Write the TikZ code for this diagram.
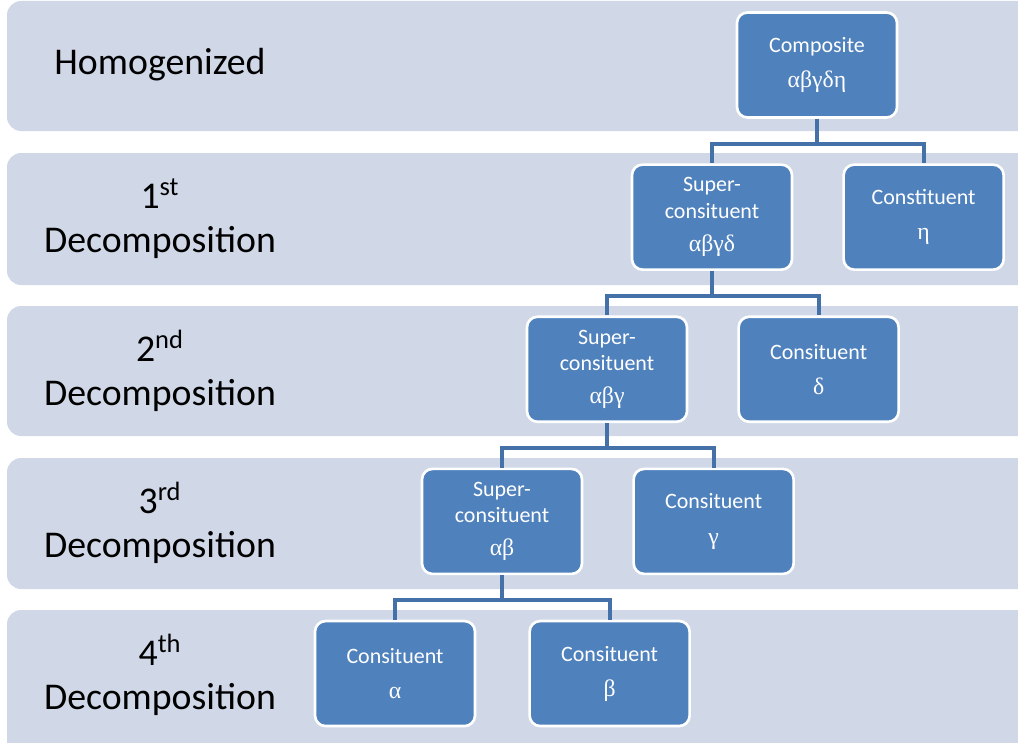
\documentclass[tikz,border=0pt]{standalone}
\usepackage{fontspec}
\setmainfont{Carlito}
\newfontfamily\greekfont{Liberation Serif}
\usetikzlibrary{positioning}
\definecolor{bandbg}{HTML}{D0D8E8}
\definecolor{boxfill}{HTML}{4F81BD}
\definecolor{linkcol}{HTML}{4472A8}
\newcommand{\gk}[1]{{\greekfont\fontsize{13.5}{15}\selectfont #1}}

\begin{document}
\begin{tikzpicture}[
  node distance=0.89cm and 0.98cm,
  band/.style={fill=bandbg, rounded corners=8pt},
  lbl/.style={font=\fontsize{21.5}{25}\selectfont, align=center, text=black},
  unit/.style={draw=white, line width=1.5pt, fill=boxfill, rounded corners=6pt,
               minimum width=3.2cm, minimum height=2.1cm, inner sep=1pt,
               text=white, align=center, font=\fontsize{12.5}{15}\selectfont},
  link/.style={draw=linkcol, line width=2.2pt}
]
  \useasboundingbox (0,0) rectangle (20.36,-14.84);

  % Bands
  \fill[band] (0.14,-0.02) rectangle (21,-2.62);
  \fill[band] (0.14,-3.06) rectangle (21,-5.70);
  \fill[band] (0.14,-6.12) rectangle (21,-8.72);
  \fill[band] (0.14,-9.16) rectangle (21,-11.78);
  \fill[band] (0.14,-12.20) rectangle (21,-15.2);

  % Level names
  \node[lbl] (hom) at (3.2,-1.30) {Homogenized};
  \node[lbl] (dec1) at (3.2,-4.38) {1\textsuperscript{st}\\Decomposition};
  \node[lbl] (dec2) at (3.2,-7.42) {2\textsuperscript{nd}\\Decomposition};
  \node[lbl] (dec3) at (3.2,-10.46) {3\textsuperscript{rd}\\Decomposition};
  \node[lbl] (dec4) at (3.2,-13.50) {4\textsuperscript{th}\\Decomposition};

  % Homogenized
  \node[unit] (comp) at (16.34,-1.30) {Composite\\[5pt]\gk{αβγδη}};

  % 1st decomposition
  \node[unit, below=of comp, xshift=-2.1cm] (sup1) {Super-\\consituent\\[4pt]\gk{αβγδ}};
  \node[unit, right=of sup1] (eta) {Constituent\\[5pt]\gk{η}};

  % 2nd decomposition
  \node[unit, below=of sup1, xshift=-2.1cm] (sup2) {Super-\\consituent\\[4pt]\gk{αβγ}};
  \node[unit, right=of sup2] (delta) {Consituent\\[5pt]\gk{δ}};

  % 3rd decomposition
  \node[unit, below=of sup2, xshift=-2.1cm] (sup3) {Super-\\consituent\\[4pt]\gk{αβ}};
  \node[unit, right=of sup3] (gamma) {Consituent\\[5pt]\gk{γ}};

  % 4th decomposition
  \node[unit, below=of sup3, xshift=-2.14cm] (alpha) {Consituent\\[5pt]\gk{α}};
  \node[unit, right=1.04cm of alpha] (beta) {Consituent\\[5pt]\gk{β}};

  % Elbow links
  \draw[link] (comp.south) -- ++(0,-0.5) -| (sup1.north);
  \draw[link] (comp.south) -- ++(0,-0.5) -| (eta.north);
  \draw[link] (sup1.south) -- ++(0,-0.5) -| (sup2.north);
  \draw[link] (sup1.south) -- ++(0,-0.5) -| (delta.north);
  \draw[link] (sup2.south) -- ++(0,-0.5) -| (sup3.north);
  \draw[link] (sup2.south) -- ++(0,-0.5) -| (gamma.north);
  \draw[link] (sup3.south) -- ++(0,-0.5) -| (alpha.north);
  \draw[link] (sup3.south) -- ++(0,-0.5) -| (beta.north);
\end{tikzpicture}
\end{document}
